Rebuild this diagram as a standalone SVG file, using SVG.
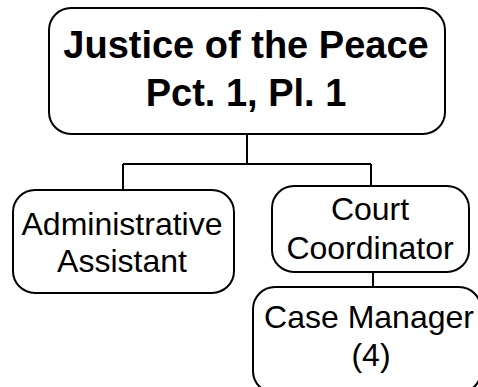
<svg xmlns="http://www.w3.org/2000/svg" width="478" height="387" viewBox="0 0 478 387">
  <style>
    .box { fill: #ffffff; stroke: #000000; stroke-width: 2; }
    .wire { fill: none; stroke: #000000; stroke-width: 2; }
    .title { font-family: "Liberation Sans", Arial, sans-serif; font-size: 38px; font-weight: bold; text-anchor: middle; fill: #000000; }
    .label { font-family: "Liberation Sans", Arial, sans-serif; font-size: 32px; text-anchor: middle; fill: #000000; }
  </style>
  <rect width="478" height="387" fill="#ffffff"/>

  <g id="connectors">
    <path class="wire" d="M247 134 V164 M123 164 H371 M123 164 V190 M371 164 V186"/>
    <path class="wire" d="M373 272 V287"/>
  </g>

  <g id="justice">
    <rect class="box" x="49" y="8" width="396" height="126" rx="22" ry="22"/>
    <text class="title" x="246" y="58">Justice of the Peace</text>
    <text class="title" x="246" y="106">Pct. 1, Pl. 1</text>
  </g>

  <g id="admin-assistant">
    <rect class="box" x="13" y="190" width="221" height="103" rx="22" ry="22"/>
    <text class="label" x="122" y="235">Administrative</text>
    <text class="label" x="122" y="272">Assistant</text>
  </g>

  <g id="court-coordinator">
    <rect class="box" x="272" y="186" width="197" height="86" rx="22" ry="22"/>
    <text class="label" x="370" y="220">Court</text>
    <text class="label" x="370" y="259">Coordinator</text>
  </g>

  <g id="case-manager">
    <rect class="box" x="253" y="287" width="228" height="106" rx="22" ry="22"/>
    <text class="label" x="369" y="328">Case Manager</text>
    <text class="label" x="371" y="366">(4)</text>
  </g>
</svg>
